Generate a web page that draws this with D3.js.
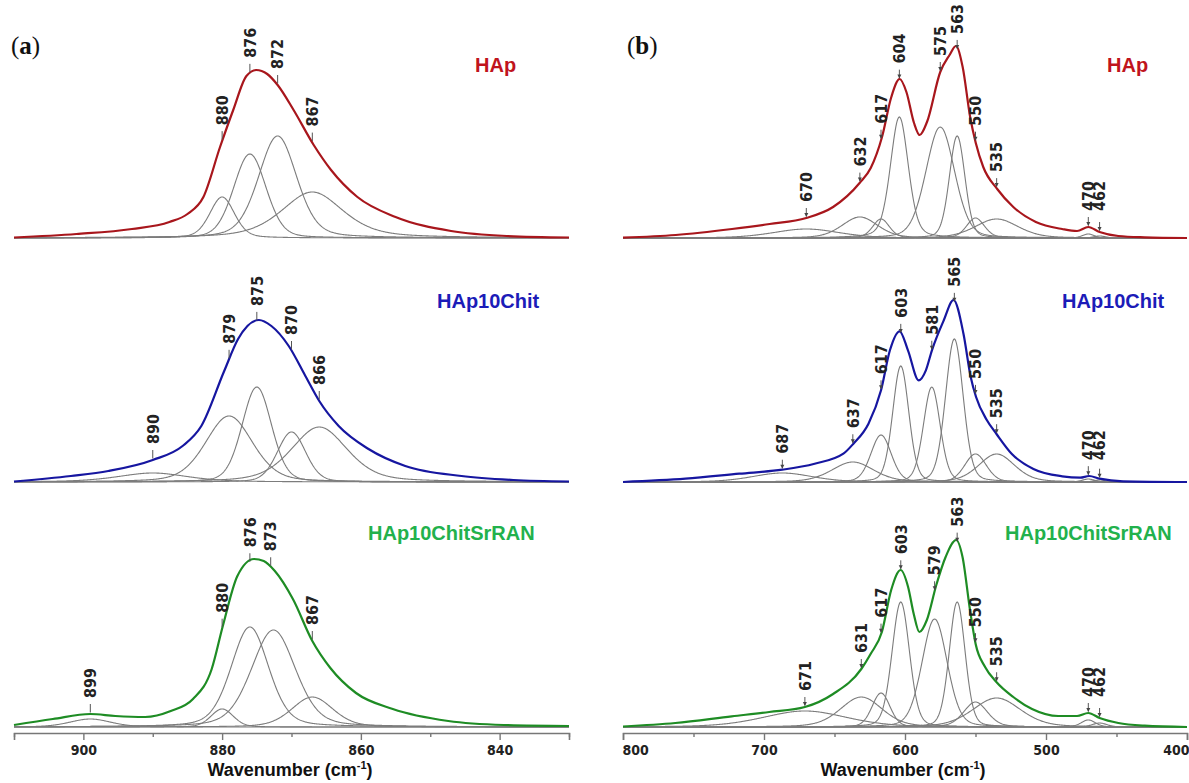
<!DOCTYPE html>
<html><head><meta charset="utf-8">
<script src="https://cdn.jsdelivr.net/npm/d3@7"></script>
<style>body{margin:0;background:#fff} svg{display:block}</style>
</head><body><svg id="c" width="1189" height="783"></svg>
<script>
// ---------- DATA (wavenumber cm-1, intensity a.u.) ----------
const domainA = [910, 830];
const domainB = [800, 400];
const majorTicksA = [900, 880, 860, 840];
const minorTicksA = [910, 890, 870, 850, 830];
const majorTicksB = [800, 700, 600, 500, 400];
const minorTicksB = [750, 650, 550, 450];
const sampleNames = ["HAp", "HAp10Chit", "HAp10ChitSrRAN"];

// envelopes [wavenumber, intensity]
const envA_HAp = [[910,0.5],[901,4],[893,9],[887.6,16],[885,24],[882.7,41],[880.3,91],[878.4,128],[876.5,162],[875.1,168],[873.5,164],[872,153],[869.7,128],[866.8,93],[864.3,68],[860.5,41],[855,21],[847,7],[839,2],[830,0.5]];
const envA_Chit = [[910,0.5],[901.8,6],[896.4,11],[890,22],[885.7,36],[883,56],[879.7,111],[877.7,143],[874.7,162],[872.9,156],[870.4,136],[868,106],[866,81],[863.2,56],[858.9,33],[853.6,16],[845.5,6],[838,2],[830,0.5]];
const envA_Sr = [[910,2],[904.4,8],[899,13],[895.4,11],[891.1,10],[887.4,16],[884.2,28],[881.5,58],[879.9,101],[877.8,151],[875.4,168],[874,166],[872.4,156],[869.8,128],[867,86],[864.4,59],[860.7,34],[855.4,18],[847.4,6],[839.4,2],[830,1]];
const envB_HAp = [[800,0.3],[762.6,3],[722.7,9],[696,14],[670,20],[651,31],[632.2,55],[624.3,70],[616.3,101],[609.7,141],[603.8,159],[599,146],[593.6,115],[589.6,103],[584.4,116],[575,166],[568.4,183],[563.9,192],[559.1,171],[553.8,121],[549.8,95],[544.5,71],[534.6,49],[523.2,31],[507.2,16],[488.6,9],[478,7],[470,11],[462,6],[448.7,2],[430,0.7],[400,0]];
const envB_Chit = [[800,0],[755.7,3.3],[717.5,8.3],[687,12.3],[664.1,18.3],[643.7,28.3],[636.6,38.3],[625.9,58.3],[617,91.7],[610.7,131.7],[603.8,150.7],[597.9,131.7],[590.3,101.7],[585.2,111.7],[580.9,131.7],[572.5,161.7],[565.6,182],[558.5,148],[553.4,105],[549.6,85],[542,62],[535.1,48],[524.2,28],[508.9,13],[488.5,5.7],[475.8,4.3],[469.4,6],[462,3.3],[445.3,0.7],[400,0]];
const envB_Sr = [[800,0.5],[762.9,4],[722.9,10.7],[696.3,15],[671,20],[651,33],[631,58],[624.4,73],[616.4,95],[609.8,137],[603.1,157],[597.8,140],[593.8,113],[589.8,95],[584.5,107],[577.8,142],[571.2,170],[563.7,187],[559.2,170],[553.9,117],[549.9,83],[543.2,60],[535.2,45],[523.2,30],[509.9,18],[491.3,11],[478,11],[470,14],[462,9],[448.7,4],[430,1.3],[400,0]];

// fitted components [centre, height, FWHM, lorentzian fraction]
const compA_HAp = [[880,41,4.2,0.3],[876,84,5.5,0.2],[872,102,6.5,0.3],[867,46,10.5,0.5]];
const compA_Chit = [[890,9,12,0.5],[879,66,8,0.3],[875,95,5,0.2],[870,50,4.8,0.2],[866,55,9.5,0.4]];
const compA_Sr = [[899,8,7,0.3],[880,18,3.8,0.2],[876,100,6.4,0.3],[872.6,97,7.5,0.3],[867,30,7,0.3]];
const compB_HAp = [[670,9,55,0.3],[632,21,30,0.3],[617,19,14,0.3],[604,121,15,0.3],[575,111,24,0.2],[563,102,13,0.2],[550,20,15,0.3],[535,19,36,0.3],[470,4,10,0.3],[462,2,10,0.3]];
const compB_Chit = [[687,9,50,0.3],[637,20,35,0.3],[617,47,17,0.2],[603,116,13.5,0.2],[581,95,14,0.2],[565,143,14.8,0.2],[550,28,18,0.2],[535,28,30,0.3],[470,3,10,0.3],[462,2,10,0.3]];
const compB_Sr = [[671,16,70,0.3],[631,30,35,0.3],[617,34,15,0.2],[603,125,14.6,0.2],[579,108,21,0.2],[563,125,13.3,0.2],[550,25,20,0.3],[535,29,40,0.3],[470,7,12,0.3],[462,4,12,0.3]];

// peak labels
const labA_HAp = [880,876,872,867];
const labA_Chit = [890,879,875,870,866];
const labA_Sr = [899,880,876,873,867];
const labB_HAp = [670,632,617,604,575,563,550,535,470,462];
const labB_Chit = [687,637,617,603,581,565,550,535,470,462];
const labB_Sr = [671,631,617,603,579,563,550,535,470,462];

// ---------- DRAWING ----------
const svg = d3.select("#c");
const rowBase = [238, 482, 727];
const envColors = ["#a8161c", "#1616a0", "#1e8c24"];
const nameColors = ["#c0141c", "#1c1cb8", "#22b14c"];
const axisY = 733;

const panels = [
  {x: d3.scaleLinear().domain(domainA).range([14, 569]), env: [envA_HAp, envA_Chit, envA_Sr],
   comp: [compA_HAp, compA_Chit, compA_Sr], lab: [labA_HAp, labA_Chit, labA_Sr],
   major: majorTicksA, minor: minorTicksA, tag: ["(", "a", ")"], tagX: 11,
   nameX: [475, 437, 368], arrows: false, titleX: 290},
  {x: d3.scaleLinear().domain(domainB).range([623, 1187]), env: [envB_HAp, envB_Chit, envB_Sr],
   comp: [compB_HAp, compB_Chit, compB_Sr], lab: [labB_HAp, labB_Chit, labB_Sr],
   major: majorTicksB, minor: minorTicksB, tag: ["(", "b", ")"], tagX: 627,
   nameX: [1107, 1062, 1005], arrows: true, titleX: 903}
];
const nameY = [72, 308, 540];

function pv(w, c) {
  const [c0, h, f, eta] = c;
  const u = (w - c0) / (f / 2);
  return h * (eta / (1 + u * u) + (1 - eta) * Math.exp(-Math.LN2 * u * u));
}
function envAt(env, w) {
  for (let i = 0; i < env.length - 1; i++) {
    const [w0, v0] = env[i], [w1, v1] = env[i + 1];
    if ((w <= w0 && w >= w1)) return v0 + (v1 - v0) * (w - w0) / (w1 - w0);
  }
  return 0;
}

const labelFont = "'Liberation Sans Narrow','Arial Narrow','DejaVu Sans Condensed',sans-serif";

panels.forEach(p => {
  const g = svg.append("g");
  const [d0, d1] = p.x.domain();
  const samples = d3.range(0, 801).map(i => d0 + (d1 - d0) * i / 800);

  rowBase.forEach((b, r) => {
    const y = d3.scaleLinear().domain([0, 200]).range([b, b - 200]);
    const line = d3.line().x(d => p.x(d[0])).y(d => y(d[1]));
    // components
    p.comp[r].forEach(c => {
      g.append("path").attr("d", line(samples.map(w => [w, pv(w, c)])))
        .attr("fill", "none").attr("stroke", "#7c7c7c").attr("stroke-width", 1.1);
    });
    // envelope
    g.append("path").attr("d", line.curve(d3.curveMonotoneX)(p.env[r]))
      .attr("fill", "none").attr("stroke", envColors[r]).attr("stroke-width", 2.2);
    // peak labels
    p.lab[r].forEach(w => {
      let v = envAt(p.env[r], w);
      p.lab[r].forEach(o => { if (o !== w && Math.abs(o - w) <= 10 && d0 - d1 > 100) v = Math.max(v, envAt(p.env[r], o)); });
      const ey = y(envAt(p.env[r], w));
      const ty = y(v) - 16;
      const xx = p.x(w);
      g.append("line").attr("x1", xx).attr("x2", xx).attr("y1", ey - 10).attr("y2", ey - 1.5)
        .attr("stroke", "#555").attr("stroke-width", 1);
      if (p.arrows) {
        g.append("path").attr("d", `M${xx-2},${ey-5}L${xx+2},${ey-5}L${xx},${ey-1}Z`).attr("fill", "#444");
      }
      g.append("text").attr("transform", `translate(${xx},${ty}) rotate(-90)`)
        .attr("dy", "0.36em").attr("text-anchor", "start")
        .attr("font-family", labelFont).attr("font-weight", "bold").attr("font-size", 16)
        .attr("fill", "#222").text(w);
    });
    // sample name
    g.append("text").attr("x", p.nameX[r]).attr("y", nameY[r])
      .attr("font-family", "'Liberation Sans',Arial,sans-serif").attr("font-weight", "bold")
      .attr("font-size", 20).attr("fill", nameColors[r]).text(sampleNames[r]);
  });

  // axis
  const ax = g.append("g").attr("transform", `translate(0,${axisY})`);
  ax.call(d3.axisBottom(p.x).tickValues(p.major).tickSize(7).tickPadding(5).tickFormat(d3.format("d")));
  ax.select(".domain").attr("stroke", "#777").attr("stroke-width", 1.6);
  ax.selectAll(".tick line").attr("stroke", "#777").attr("stroke-width", 1.4);
  ax.selectAll(".tick text").attr("font-family", labelFont).attr("font-weight", "bold")
    .attr("font-size", 14).attr("fill", "#222")
    .attr("text-anchor", d => d === d0 ? "start" : (d === d1 ? "end" : "middle"))
    .attr("dx", d => d === d0 ? -1 : (d === d1 ? 2 : 0));
  const ax2 = g.append("g").attr("transform", `translate(0,${axisY})`);
  ax2.call(d3.axisBottom(p.x).tickValues(p.minor).tickSize(4).tickFormat(""));
  ax2.select(".domain").remove();
  ax2.selectAll(".tick line").attr("stroke", "#777").attr("stroke-width", 1.4);

  // axis title
  const t = g.append("text").attr("x", p.titleX).attr("y", 776).attr("text-anchor", "middle")
    .attr("font-family", "'Liberation Sans',Arial,sans-serif").attr("font-weight", "bold")
    .attr("font-size", 18).attr("fill", "#111");
  t.append("tspan").text("Wavenumber (cm");
  t.append("tspan").attr("dy", -7).attr("font-size", 11).text("-1");
  t.append("tspan").attr("dy", 7).text(")");

  // panel tag
  const tg = g.append("text").attr("x", p.tagX).attr("y", 54)
    .attr("font-family", "'Liberation Serif','DejaVu Serif',serif").attr("font-size", 25)
    .attr("fill", "#111");
  tg.append("tspan").text(p.tag[0]);
  tg.append("tspan").attr("font-weight", "bold").text(p.tag[1]);
  tg.append("tspan").text(p.tag[2]);
});
</script></body></html>
